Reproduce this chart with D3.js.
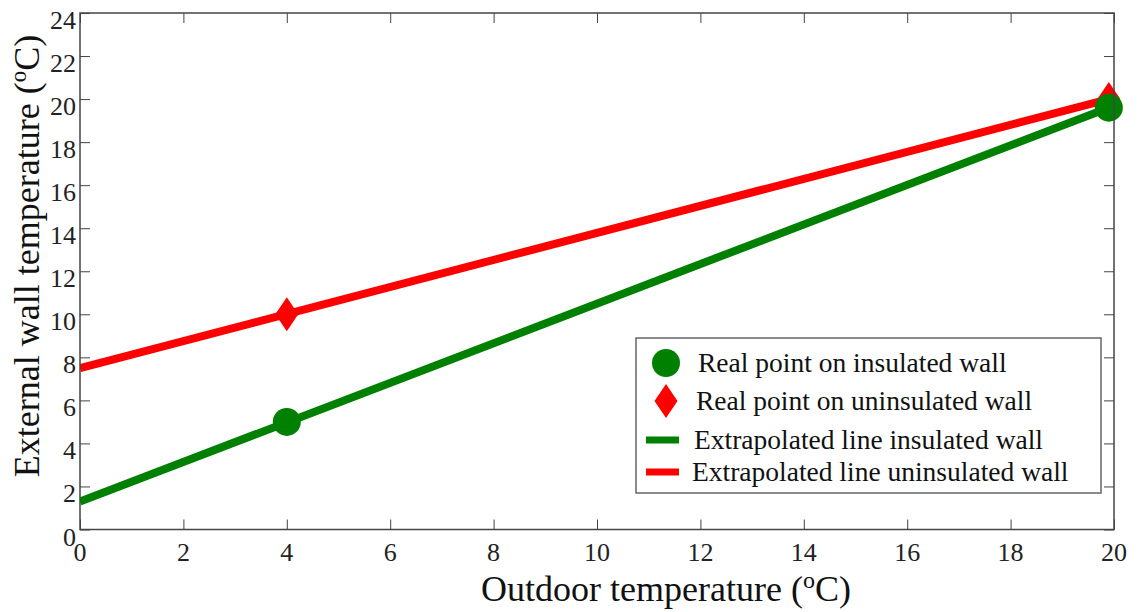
<!DOCTYPE html>
<html>
<head>
<meta charset="utf-8">
<script src="https://cdn.jsdelivr.net/npm/d3@7"></script>
<style>
  html, body { margin: 0; padding: 0; background: #fff; }
  svg { display: block; font-family: "Liberation Serif", "Times New Roman", serif; }
</style>
</head>
<body>
<svg id="chart" width="1144" height="612"></svg>
<script>
// Measured points (outdoor temperature, wall temperature)
const insulatedX = [4, 19.9];
const insulatedY = [5.0, 19.6];
const uninsulatedX = [4, 19.9];
const uninsulatedY = [10.0, 20.0];

// Extrapolated lines, drawn from x = 0 to the last measured point
const insulatedLineX = [0, 19.9];
const insulatedLineY = [1.3, 19.6];
const uninsulatedLineX = [0, 19.9];
const uninsulatedLineY = [7.5, 20.0];

const xTicks = [0, 2, 4, 6, 8, 10, 12, 14, 16, 18, 20];
const yTicks = [0, 2, 4, 6, 8, 10, 12, 14, 16, 18, 20, 22, 24];

const legendLabels = [
  "Real point on insulated wall",
  "Real point on uninsulated wall",
  "Extrapolated line insulated wall",
  "Extrapolated line uninsulated wall"
];

const GREEN = "#008000";
const RED = "#ff0000";
const AXIS = "#444";

const svg = d3.select("#chart");
const plotLeft = 80, plotRight = 1114, plotTop = 13, plotBottom = 529.5;

const x = d3.scaleLinear().domain([0, 20]).range([plotLeft, plotRight]);
const y = d3.scaleLinear().domain([0, 24]).range([plotBottom, plotTop]);

// Inward ticks on all four sides
const tickLen = 10;
const styleAxis = g => { g.select(".domain").remove(); g.selectAll("line").attr("stroke", AXIS); };
svg.append("g").attr("transform", `translate(0,${plotBottom})`)
  .call(d3.axisBottom(x).tickValues(xTicks).tickSizeInner(-tickLen).tickSizeOuter(0).tickFormat(""))
  .call(styleAxis);
svg.append("g").attr("transform", `translate(0,${plotTop})`)
  .call(d3.axisTop(x).tickValues(xTicks).tickSizeInner(-tickLen).tickSizeOuter(0).tickFormat(""))
  .call(styleAxis);
svg.append("g").attr("transform", `translate(${plotLeft},0)`)
  .call(d3.axisLeft(y).tickValues(yTicks).tickSizeInner(-tickLen).tickSizeOuter(0).tickFormat(""))
  .call(styleAxis);
svg.append("g").attr("transform", `translate(${plotRight},0)`)
  .call(d3.axisRight(y).tickValues(yTicks).tickSizeInner(-tickLen).tickSizeOuter(0).tickFormat(""))
  .call(styleAxis);

// Tick labels
svg.append("g").selectAll("text").data(xTicks).join("text")
  .attr("x", d => x(d)).attr("y", 561)
  .attr("text-anchor", "middle").attr("font-size", 26).attr("fill", "#222")
  .text(d => d);
svg.append("g").selectAll("text").data(yTicks).join("text")
  .attr("x", 76).attr("y", d => y(d) + 16)
  .attr("text-anchor", "end").attr("font-size", 26).attr("fill", "#222")
  .text(d => d);

// Lines
const line = d3.line().x(d => x(d[0])).y(d => y(d[1]));
svg.append("clipPath").attr("id", "plotclip")
  .append("rect").attr("x", plotLeft).attr("y", plotTop)
  .attr("width", plotRight - plotLeft).attr("height", plotBottom - plotTop);

const plot = svg.append("g").attr("clip-path", "url(#plotclip)");
plot.append("path")
  .datum(d3.zip(uninsulatedLineX, uninsulatedLineY))
  .attr("d", line).attr("fill", "none").attr("stroke", RED).attr("stroke-width", 8);
plot.append("path")
  .datum(d3.zip(insulatedLineX, insulatedLineY))
  .attr("d", line).attr("fill", "none").attr("stroke", GREEN).attr("stroke-width", 8);

// Markers
const diamond = (cx, cy, w, h) =>
  `M${cx},${cy - h / 2}L${cx + w / 2},${cy}L${cx},${cy + h / 2}L${cx - w / 2},${cy}Z`;

svg.append("g").selectAll("path").data(d3.zip(uninsulatedX, uninsulatedY)).join("path")
  .attr("d", d => diamond(x(d[0]), y(d[1]), 23, 34))
  .attr("fill", RED);
svg.append("g").selectAll("circle").data(d3.zip(insulatedX, insulatedY)).join("circle")
  .attr("cx", d => x(d[0])).attr("cy", d => y(d[1])).attr("r", 14)
  .attr("fill", GREEN);

// Box edges
svg.append("rect").attr("x", plotLeft).attr("y", plotTop)
  .attr("width", plotRight - plotLeft).attr("height", plotBottom - plotTop)
  .attr("fill", "none").attr("stroke", AXIS).attr("stroke-width", 1.5);

// Legend
const lg = svg.append("g");
lg.append("rect").attr("x", 636).attr("y", 338).attr("width", 465).attr("height", 155)
  .attr("fill", "#fff").attr("stroke", "#666").attr("stroke-width", 1.5);
const rowsY = [363, 401, 440, 472];
lg.append("circle").attr("cx", 666).attr("cy", rowsY[0]).attr("r", 14).attr("fill", GREEN);
lg.append("path").attr("d", diamond(666, rowsY[1], 23, 34)).attr("fill", RED);
lg.append("line").attr("x1", 646).attr("x2", 679).attr("y1", rowsY[2]).attr("y2", rowsY[2])
  .attr("stroke", GREEN).attr("stroke-width", 7);
lg.append("line").attr("x1", 646).attr("x2", 679).attr("y1", rowsY[3]).attr("y2", rowsY[3])
  .attr("stroke", RED).attr("stroke-width", 7);
const textX = [698, 696, 694, 692];
lg.selectAll("text").data(legendLabels).join("text")
  .attr("x", (d, i) => textX[i]).attr("y", (d, i) => rowsY[i] + 9)
  .attr("font-size", 27.5).attr("fill", "#111")
  .text(d => d);

// Axis titles
const xt = svg.append("text").attr("x", 666).attr("y", 601)
  .attr("text-anchor", "middle").attr("font-size", 36).attr("fill", "#111");
xt.append("tspan").text("Outdoor temperature (");
xt.append("tspan").attr("font-size", 24).attr("dy", -13).text("o");
xt.append("tspan").attr("dy", 13).text("C)");

const yt = svg.append("text").attr("transform", "translate(39,256) rotate(-90)")
  .attr("text-anchor", "middle").attr("font-size", 36).attr("fill", "#111");
yt.append("tspan").text("External wall temperature (");
yt.append("tspan").attr("font-size", 23).attr("dy", -13).text("o");
yt.append("tspan").attr("dy", 13).text("C)");
</script>
</body>
</html>
